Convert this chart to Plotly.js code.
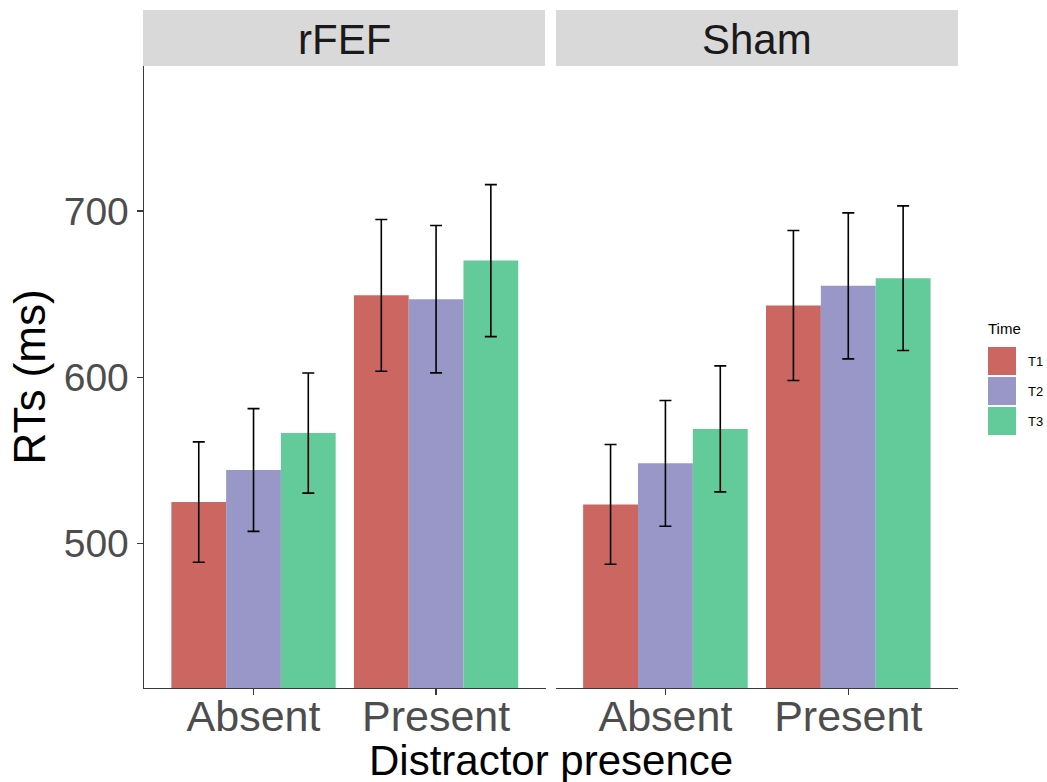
<!DOCTYPE html>
<html>
<head>
<meta charset="utf-8">
<script src="https://cdn.plot.ly/plotly-3.0.1.min.js"></script>
<style>html,body{margin:0;padding:0;background:#fff;}#chart{width:1047px;height:782px;}</style>
</head>
<body>
<div id="chart"></div>
<script>
// ---- data ----
const categories = ["Absent", "Present"];
const panels = ["rFEF", "Sham"];
const times = ["T1", "T2", "T3"];
const colors = ["#CC6661", "#9997C8", "#63CB99"];

const rFEF_T1 = [525.0, 649.3];
const rFEF_T2 = [544.3, 647.0];
const rFEF_T3 = [566.5, 670.2];
const rFEF_T1_se = [36.2, 45.6];
const rFEF_T2_se = [36.9, 44.3];
const rFEF_T3_se = [36.1, 45.7];

const sham_T1 = [523.6, 643.2];
const sham_T2 = [548.3, 655.0];
const sham_T3 = [569.0, 659.6];
const sham_T1_se = [36.0, 45.1];
const sham_T2_se = [37.8, 43.9];
const sham_T3_se = [37.9, 43.5];

const yTicks = [500, 600, 700];

// ---- geometry helpers (pixels -> paper) ----
const W = 1047, H = 782;
const M = {l: 144, r: 89, t: 66, b: 94};
const PW = W - M.l - M.r, PH = H - M.t - M.b;
const px = x => (x - M.l) / PW;
const py = y => (H - M.b - y) / PH;

const font = "Liberation Sans, Arial, Helvetica, sans-serif";

const rfefVals = [rFEF_T1, rFEF_T2, rFEF_T3];
const rfefSe = [rFEF_T1_se, rFEF_T2_se, rFEF_T3_se];
const shamVals = [sham_T1, sham_T2, sham_T3];
const shamSe = [sham_T1_se, sham_T2_se, sham_T3_se];

const traces = [];
function addPanel(vals, ses, xa) {
  times.forEach((t, i) => {
    traces.push({
      type: "bar",
      name: t,
      x: categories,
      y: vals[i],
      xaxis: xa,
      yaxis: "y",
      marker: {color: colors[i], line: {width: 0}},
      error_y: {type: "data", array: ses[i], visible: true, color: "#000000", thickness: 1.6, width: 6},
      showlegend: false,
      hoverinfo: "x+y+name"
    });
  });
}
addPanel(rfefVals, rfefSe, "x");
addPanel(shamVals, shamSe, "x2");

const axisLine = "#3a3a3a";
const xCommon = {
  type: "category",
  range: [-0.6, 1.6],
  showline: true, linecolor: axisLine, linewidth: 1.4,
  ticks: "outside", ticklen: 6, tickwidth: 1.2, tickcolor: axisLine,
  ticklabelstandoff: -16,
  tickfont: {family: font, size: 43, color: "#4D4D4D"},
  showgrid: false, zeroline: false, fixedrange: true,
  anchor: "y"
};

const shapes = [];
const annotations = [];
// strips
const strips = [[143, 545], [556, 958]];
panels.forEach((p, i) => {
  shapes.push({type: "rect", xref: "paper", yref: "paper",
    x0: px(strips[i][0]), x1: px(strips[i][1]), y0: py(66), y1: py(10),
    fillcolor: "#D9D9D9", line: {width: 0}, layer: "below"});
  annotations.push({xref: "paper", yref: "paper", x: px((strips[i][0] + strips[i][1]) / 2), y: py(39),
    text: p, showarrow: false, xanchor: "center", yanchor: "middle",
    font: {family: font, size: 42, color: "#1A1A1A"}});
});
// x title
annotations.push({xref: "paper", yref: "paper", x: px(551), y: py(760),
  text: "Distractor presence", showarrow: false, xanchor: "center", yanchor: "middle",
  font: {family: font, size: 42, color: "#000000"}});
// legend
annotations.push({xref: "paper", yref: "paper", x: px(986), y: py(328),
  text: "Time", showarrow: false, xanchor: "left", yanchor: "middle",
  font: {family: font, size: 15, color: "#000000"}});
const keyTop = 346, keyH = 30;
times.forEach((t, i) => {
  const y0 = keyTop + i * keyH;
  shapes.push({type: "rect", xref: "paper", yref: "paper",
    x0: px(988), x1: px(1016), y0: py(y0 + 1), y1: py(y0 + keyH - 1),
    fillcolor: colors[i], line: {width: 0}});
  annotations.push({xref: "paper", yref: "paper", x: px(1026), y: py(y0 + keyH / 2),
    text: t, showarrow: false, xanchor: "left", yanchor: "middle",
    font: {family: font, size: 13, color: "#000000"}});
});

const layout = {
  width: W, height: H,
  margin: M,
  paper_bgcolor: "#ffffff", plot_bgcolor: "#ffffff",
  barmode: "group", bargap: 0.1, bargroupgap: 0,
  showlegend: false,
  font: {family: font},
  xaxis: Object.assign({}, xCommon, {domain: [0, px(545.6)]}),
  xaxis2: Object.assign({}, xCommon, {domain: [px(555.7), 1]}),
  yaxis: {
    range: [413.2, 787.2],
    tickvals: yTicks, ticktext: yTicks.map(String),
    showline: true, linecolor: axisLine, linewidth: 1.4,
    ticks: "outside", ticklen: 6, tickwidth: 1.2, tickcolor: axisLine,
    tickfont: {family: font, size: 39, color: "#4D4D4D"},
    showgrid: false, zeroline: false, fixedrange: true,
    title: {text: "RTs (ms)", font: {family: font, size: 44, color: "#000000"}, standoff: 4},
    anchor: "x"
  },
  shapes: shapes,
  annotations: annotations
};

Plotly.newPlot("chart", traces, layout, {displayModeBar: false, staticPlot: true});
</script>
</body>
</html>
